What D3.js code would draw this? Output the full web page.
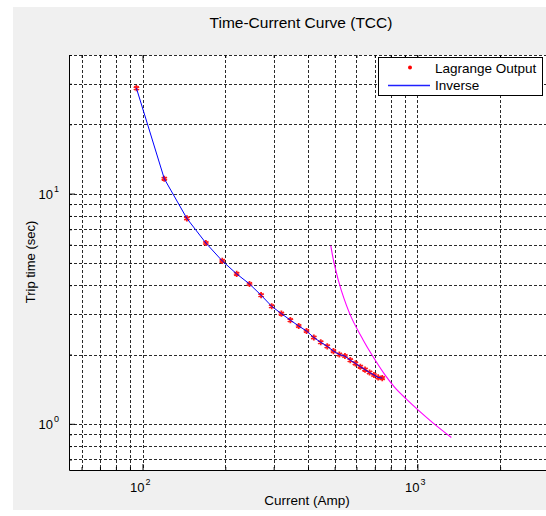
<!DOCTYPE html>
<html>
<head>
<meta charset="utf-8">
<script src="https://cdn.jsdelivr.net/npm/d3@7"></script>
<style>
  body { margin: 0; background: #fff; }
  svg { display: block; font-family: "Liberation Sans", Arial, sans-serif; }
</style>
</head>
<body>
<div id="chart"></div>
<script>
// Lagrange output points (current in A, trip time in s)
const current = [95, 120, 145, 170, 195, 220, 245, 270, 295, 320, 345, 370, 395, 420,
  445, 470, 495, 520, 545, 570, 595, 620, 645, 670, 695, 720, 745];
const tripTime = [28.7, 11.6, 7.8, 6.1, 5.1, 4.48, 4.05, 3.62, 3.24, 3.01, 2.82, 2.66, 2.53, 2.37,
  2.26, 2.17, 2.07, 2.0, 1.97, 1.89, 1.83, 1.77, 1.72, 1.67, 1.63, 1.59, 1.58];

// second (magenta) curve
const curve2Current = [484, 500, 529, 575, 634, 682, 760, 827, 912, 1005, 1139, 1329];
const curve2Time = [5.94, 4.86, 3.79, 2.90, 2.32, 2.0, 1.64, 1.44, 1.28, 1.15, 1.01, 0.872];

const xMajor = [100, 1000];
const yMajor = [1, 10];
const xMinor = [60, 70, 80, 90, 200, 300, 400, 500, 600, 700, 800, 900, 2000];
const yMinor = [0.7, 0.8, 0.9, 2, 3, 4, 5, 6, 7, 8, 9, 20, 30, 40];
const legendLabels = ["Lagrange Output", "Inverse"];

const width = 546;
const height = 516;
const margin = { top: 55, right: 0, bottom: 46, left: 69 };

const svg = d3.select("#chart")
  .append("svg")
  .attr("width", width)
  .attr("height", height);

// figure background
svg.append("rect")
  .attr("x", 13).attr("y", 7)
  .attr("width", width - 13).attr("height", 503)
  .attr("fill", "#f0f0f0");

const x = d3.scaleLog()
  .domain([54, 2950])
  .range([margin.left, width - margin.right + 0.5]);

const y = d3.scaleLog()
  .domain([0.63, 40])
  .range([height - margin.bottom, margin.top]);

svg.append("rect")
  .attr("x", margin.left).attr("y", margin.top)
  .attr("width", width - margin.left).attr("height", y.range()[0] - margin.top)
  .attr("fill", "#fff");

const gridColor = "#2a2a2a";
const allX = xMinor.concat(xMajor);
const allY = yMinor.concat(yMajor);

// grid
svg.append("g")
  .selectAll("line")
  .data(allX)
  .join("line")
    .attr("x1", d => Math.round(x(d)) + 0.5)
    .attr("x2", d => Math.round(x(d)) + 0.5)
    .attr("y1", y.range()[1])
    .attr("y2", y.range()[0])
    .attr("stroke", gridColor)
    .attr("stroke-dasharray", "3,2");

svg.append("g")
  .selectAll("line")
  .data(allY)
  .join("line")
    .attr("y1", d => Math.round(y(d)) + 0.5)
    .attr("y2", d => Math.round(y(d)) + 0.5)
    .attr("x1", margin.left)
    .attr("x2", width)
    .attr("stroke", gridColor)
    .attr("stroke-dasharray", "3,2");

// axes with inward ticks
function styleAxis(g) {
  g.select(".domain").remove();
  g.selectAll(".tick line").attr("stroke", "#000");
  g.selectAll(".tick text").remove();
}

const bottomY = y.range()[0];
svg.append("g")
  .attr("transform", `translate(0,${bottomY})`)
  .call(d3.axisBottom(x).tickValues(xMajor).tickSize(-6))
  .call(styleAxis);
svg.append("g")
  .attr("transform", `translate(0,${bottomY})`)
  .call(d3.axisBottom(x).tickValues(xMinor).tickSize(-3))
  .call(styleAxis);
svg.append("g")
  .attr("transform", `translate(0,${margin.top})`)
  .call(d3.axisTop(x).tickValues(xMajor).tickSize(-6))
  .call(styleAxis);
svg.append("g")
  .attr("transform", `translate(0,${margin.top})`)
  .call(d3.axisTop(x).tickValues(xMinor).tickSize(-3))
  .call(styleAxis);
svg.append("g")
  .attr("transform", `translate(${margin.left},0)`)
  .call(d3.axisLeft(y).tickValues(yMajor).tickSize(-6))
  .call(styleAxis);
svg.append("g")
  .attr("transform", `translate(${margin.left},0)`)
  .call(d3.axisLeft(y).tickValues(yMinor).tickSize(-3))
  .call(styleAxis);

// solid left and bottom border
svg.append("path")
  .attr("d", `M${margin.left + 0.5},${margin.top}V${bottomY + 0.5}H${width}`)
  .attr("fill", "none")
  .attr("stroke", "#000");

// tick labels 10^n
const labs = svg.append("g").attr("font-size", 13).attr("fill", "#000");
xMajor.forEach(v => {
  labs.append("text")
    .attr("x", x(v) + 2)
    .attr("y", bottomY + 22)
    .attr("text-anchor", "end")
    .text("10");
  labs.append("text")
    .attr("x", x(v) + 3)
    .attr("y", bottomY + 15)
    .attr("font-size", 9)
    .text(Math.round(Math.log10(v)));
});
yMajor.forEach(v => {
  labs.append("text")
    .attr("x", 53)
    .attr("y", y(v) + 5)
    .attr("text-anchor", "end")
    .text("10");
  labs.append("text")
    .attr("x", 54)
    .attr("y", y(v) - 2)
    .attr("font-size", 9)
    .text(Math.round(Math.log10(v)));
});

// data
const pts = current.map((c, i) => ({ c, t: tripTime[i] }));
const pts2 = curve2Current.map((c, i) => ({ c, t: curve2Time[i] }));

const line = d3.line().x(d => x(d.c)).y(d => y(d.t));

svg.append("path")
  .datum(pts2)
  .attr("fill", "none")
  .attr("stroke", "#ff00ff")
  .attr("stroke-width", 1.1)
  .attr("d", line.curve(d3.curveCatmullRom));

const star = d3.symbol().type(d3.symbolAsterisk).size(26);

svg.append("g")
  .selectAll("path")
  .data(pts)
  .join("path")
    .attr("transform", d => `translate(${x(d.c)},${y(d.t)})`)
    .attr("d", star)
    .attr("stroke", "#ff1a1a")
    .attr("stroke-width", 1.8)
    .attr("fill", "none");

svg.append("path")
  .datum(pts)
  .attr("fill", "none")
  .attr("stroke", "#0000ff")
  .attr("stroke-width", 1)
  .attr("d", line.curve(d3.curveLinear));

// title and labels
svg.append("text")
  .attr("x", 301)
  .attr("y", 28)
  .attr("text-anchor", "middle")
  .attr("font-size", 15.5)
  .text("Time-Current Curve (TCC)");

svg.append("text")
  .attr("x", 307)
  .attr("y", 505)
  .attr("text-anchor", "middle")
  .attr("font-size", 13.5)
  .text("Current (Amp)");

svg.append("text")
  .attr("transform", "translate(35,262) rotate(-90)")
  .attr("text-anchor", "middle")
  .attr("font-size", 13)
  .text("Trip time (sec)");

// legend
const lg = svg.append("g");
lg.append("rect")
  .attr("x", 378.5).attr("y", 57.5)
  .attr("width", 164).attr("height", 38)
  .attr("fill", "#fff")
  .attr("stroke", "#000");
lg.append("circle")
  .attr("cx", 410).attr("cy", 67.5)
  .attr("r", 2)
  .attr("fill", "#ff0000");
lg.append("line")
  .attr("x1", 388).attr("x2", 430)
  .attr("y1", 85.5).attr("y2", 85.5)
  .attr("stroke", "#2020ff")
  .attr("stroke-width", 1.3);
lg.selectAll("text")
  .data(legendLabels)
  .join("text")
    .attr("x", 435)
    .attr("y", (d, i) => 72.5 + i * 17.5)
    .attr("font-size", 13.5)
    .text(d => d);
</script>
</body>
</html>
